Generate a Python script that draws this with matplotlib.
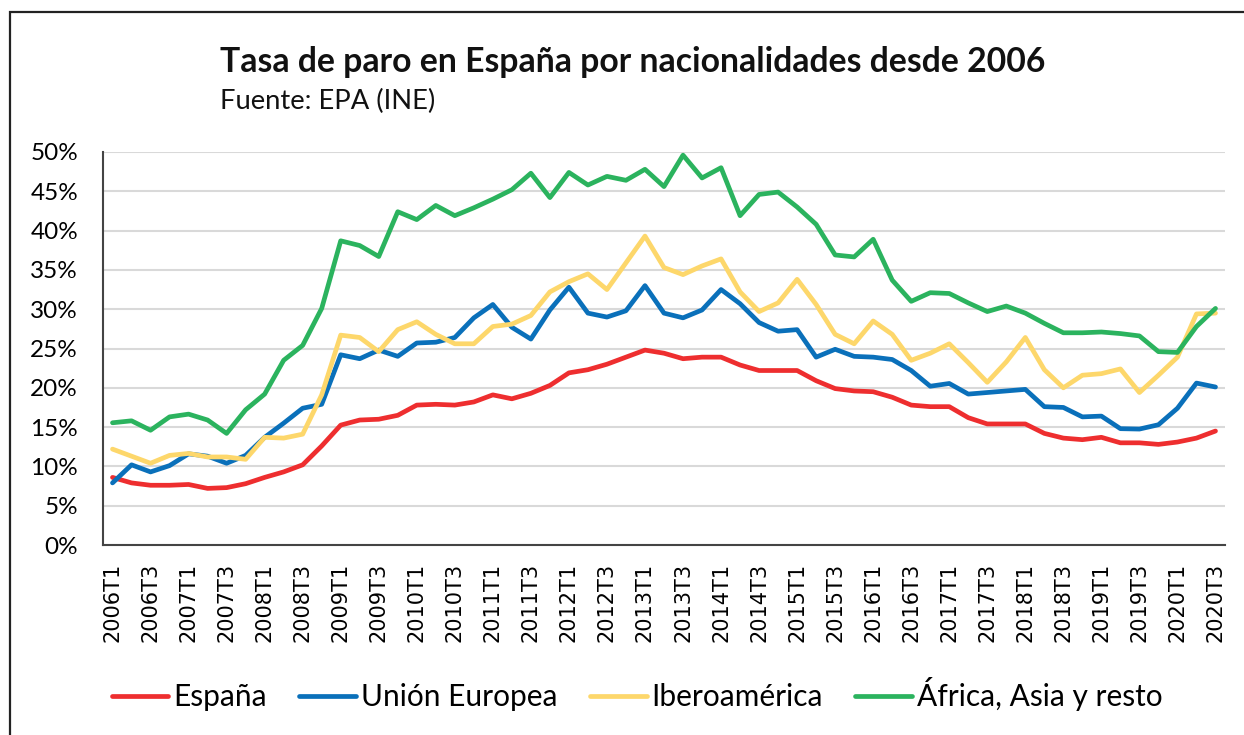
import matplotlib
matplotlib.use("Agg")
import matplotlib.pyplot as plt
from matplotlib.patches import Rectangle
from matplotlib.ticker import FuncFormatter, MultipleLocator

quarters = [f"{y}T{q}" for y in range(2006, 2021) for q in range(1, 5)][:59]

espana = [8.6, 7.9, 7.6, 7.6, 7.7, 7.2, 7.3, 7.8, 8.6, 9.3, 10.2, 12.6, 15.25, 15.9, 16.0,
          16.5, 17.8, 17.9, 17.8, 18.2, 19.1, 18.6, 19.3, 20.3, 21.9, 22.3, 23.0, 23.9, 24.8,
          24.4, 23.7, 23.9, 23.9, 22.9, 22.2, 22.2, 22.2, 20.9, 19.9, 19.6, 19.5, 18.8, 17.8,
          17.6, 17.6, 16.2, 15.4, 15.4, 15.4, 14.2, 13.6, 13.4, 13.7, 13.0, 13.0, 12.8, 13.1,
          13.6, 14.5]
union_europea = [7.9, 10.2, 9.3, 10.1, 11.6, 11.3, 10.4, 11.4, 13.7, 15.5, 17.4, 17.9, 24.2, 23.7, 24.8,
                 24.0, 25.7, 25.8, 26.4, 28.9, 30.6, 27.7, 26.2, 29.9, 32.8, 29.5, 29.0, 29.8, 33.0,
                 29.5, 28.9, 29.9, 32.5, 30.7, 28.3, 27.2, 27.4, 23.9, 24.9, 24.0, 23.9, 23.6, 22.2,
                 20.2, 20.55, 19.2, 19.4, 19.6, 19.8, 17.6, 17.5, 16.3, 16.4, 14.8, 14.75, 15.3, 17.4,
                 20.6, 20.1]
iberoamerica = [12.2, 11.3, 10.4, 11.4, 11.65, 11.2, 11.2, 10.9, 13.7, 13.6, 14.1, 19.1, 26.7, 26.4, 24.6,
                27.4, 28.4, 26.8, 25.6, 25.6, 27.8, 28.1, 29.2, 32.2, 33.5, 34.5, 32.5, 35.9, 39.3,
                35.3, 34.4, 35.5, 36.4, 32.2, 29.7, 30.8, 33.8, 30.6, 26.8, 25.6, 28.5, 26.8, 23.5,
                24.4, 25.6, 23.2, 20.7, 23.3, 26.4, 22.3, 20.0, 21.6, 21.8, 22.4, 19.4, 21.6, 23.9,
                29.4, 29.5]
africa_asia = [15.55, 15.8, 14.6, 16.3, 16.65, 15.9, 14.2, 17.2, 19.2, 23.5, 25.4, 30.1, 38.7, 38.1, 36.7,
               42.4, 41.4, 43.2, 41.9, 42.9, 44.0, 45.2, 47.3, 44.2, 47.4, 45.8, 46.9, 46.4, 47.8,
               45.6, 49.6, 46.7, 48.0, 41.9, 44.6, 44.9, 43.0, 40.8, 36.9, 36.65, 38.9, 33.7, 31.0,
               32.1, 32.0, 30.8, 29.7, 30.4, 29.5, 28.2, 27.0, 27.0, 27.1, 26.9, 26.6, 24.6, 24.5,
               27.8, 30.1]

series = [
    ("España", espana, "#EE2E2F"),
    ("Unión Europea", union_europea, "#0A70BA"),
    ("Iberoamérica", iberoamerica, "#FDD76B"),
    ("África, Asia y resto", africa_asia, "#2BB35E"),
]

plt.rcParams['font.family'] = ['Lato', 'DejaVu Sans']

W, H = 1244, 735
fig = plt.figure(figsize=(W / 100, H / 100), dpi=100)
fig.patch.set_facecolor("white")

# outer chart frame
fig.add_artist(Rectangle((10 / W, -0.05), 1.2, 1 - 12 / H + 0.05, transform=fig.transFigure,
                         fill=False, edgecolor="#222222", linewidth=1.6))

ax = fig.add_axes([103 / W, 1 - 545 / H, (1225 - 103) / W, (545 - 152) / H])
x = list(range(len(quarters)))
for name, vals, col in series:
    ax.plot(x, vals, color=col, linewidth=3.4, label=name, solid_capstyle="round",
            solid_joinstyle="round")

ax.set_xlim(-0.5, len(quarters) - 0.5)
ax.set_ylim(0, 50)
ax.yaxis.set_major_locator(MultipleLocator(5))
ax.yaxis.set_major_formatter(FuncFormatter(lambda v, p: f"{int(round(v))}%"))
ax.grid(axis="y", color="#D9D9D9", linewidth=1.5)
ax.set_axisbelow(True)
ax.set_xticks(x[::2])
ax.set_xticklabels(quarters[::2], rotation=90, family="DejaVu Sans", fontsize=15)
ax.tick_params(axis="x", length=0, pad=13)
ax.tick_params(axis="y", length=0, pad=18, labelsize=17.5)
for lab in ax.get_yticklabels():
    lab.set_horizontalalignment("right")
for s in ["top", "right"]:
    ax.spines[s].set_visible(False)
ax.spines["left"].set_color("#444444")
ax.spines["bottom"].set_color("#444444")
ax.spines["left"].set_linewidth(1.5)
ax.spines["bottom"].set_linewidth(1.5)

fig.text(220 / W, 1 - 72 / H, "Tasa de paro en España por nacionalidades desde 2006",
         fontsize=24.3, fontweight="bold", ha="left", va="baseline", color="#111111")
fig.text(220 / W, 1 - 109 / H, "Fuente: EPA (INE)", fontsize=19.7, ha="left",
         va="baseline", color="#111111")

fig.legend(loc="center", bbox_to_anchor=(637 / W, 1 - 694 / H), ncol=4, frameon=False,
           fontsize=21.5, handlelength=1.9, handletextpad=0.15, columnspacing=1.1)

fig.savefig("out.png", dpi=100, facecolor="white")
